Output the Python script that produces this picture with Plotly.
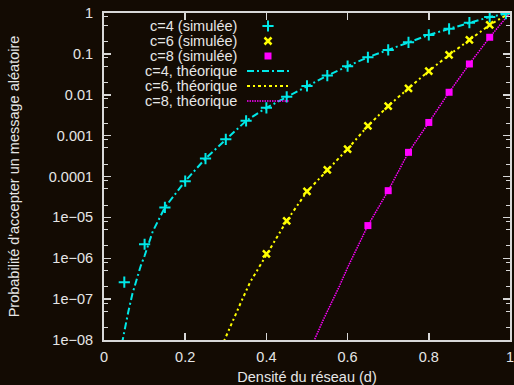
import plotly.graph_objects as go

# ---------------- data ----------------
sim_x_c4 = [0.05, 0.10, 0.15, 0.20, 0.25, 0.30, 0.35, 0.40, 0.45, 0.50,
            0.55, 0.60, 0.65, 0.70, 0.75, 0.80, 0.85, 0.90, 0.95, 0.99]
sim_y_c4 = [2.6e-7, 2.2e-6, 1.75e-5, 7.7e-5, 2.75e-4, 8.1e-4, 2.3e-3, 4.8e-3, 8.9e-3, 1.64e-2,
            2.94e-2, 5.0e-2, 8.26e-2, 0.125, 0.192, 0.29, 0.41, 0.58, 0.80, 0.97]

sim_x_c6 = [0.40, 0.45, 0.50, 0.55, 0.60, 0.65, 0.70, 0.75, 0.80, 0.85, 0.90, 0.95]
sim_y_c6 = [1.28e-6, 8.2e-6, 4.3e-5, 1.45e-4, 4.7e-4, 1.73e-3, 5.3e-3, 1.44e-2, 3.8e-2, 9.4e-2, 0.219, 0.51]

sim_x_c8 = [0.65, 0.70, 0.75, 0.80, 0.85, 0.90, 0.95]
sim_y_c8 = [6.3e-6, 4.5e-5, 3.9e-4, 2.1e-3, 1.15e-2, 5.66e-2, 0.255]

th_x_c4 = [0.044, 0.05, 0.055, 0.06, 0.07, 0.08, 0.09, 0.10, 0.12, 0.15, 0.20, 0.25, 0.30, 0.35,
           0.40, 0.45, 0.50, 0.55, 0.60, 0.65, 0.70, 0.75, 0.80, 0.85, 0.90, 0.95, 1.0]
th_y_c4 = [8e-9, 1.65e-8, 3.1e-8, 5e-8, 1.35e-7, 2.9e-7, 6.3e-7, 1.15e-6, 4.5e-6, 1.75e-5, 7.7e-5,
           2.75e-4, 8.1e-4, 2.3e-3, 4.8e-3, 8.9e-3, 1.64e-2, 2.94e-2, 5.0e-2, 8.26e-2, 0.125,
           0.192, 0.29, 0.41, 0.58, 0.80, 1.0]

th_x_c6 = [0.29, 0.30, 0.32, 0.34, 0.36, 0.38, 0.40, 0.45, 0.50, 0.55, 0.60, 0.65, 0.70,
           0.75, 0.80, 0.85, 0.90, 0.95, 1.0]
th_y_c6 = [7e-9, 1.2e-8, 3.6e-8, 9.6e-8, 2.6e-7, 5.6e-7, 1.28e-6, 8.2e-6, 4.3e-5, 1.45e-4,
           4.7e-4, 1.73e-3, 5.3e-3, 1.44e-2, 3.8e-2, 9.4e-2, 0.219, 0.51, 1.0]

th_x_c8 = [0.515, 0.52, 0.54, 0.56, 0.58, 0.60, 0.62, 0.65, 0.70, 0.75, 0.80, 0.85, 0.90, 0.95, 1.0]
th_y_c8 = [8e-9, 1.1e-8, 3.1e-8, 7.9e-8, 2.1e-7, 5.9e-7, 1.55e-6, 6.3e-6, 4.5e-5, 3.9e-4,
           2.1e-3, 1.15e-2, 5.66e-2, 0.255, 1.0]

legend_labels = ["c=4 (simulée)", "c=6 (simulée)", "c=8 (simulée)",
                 "c=4, théorique", "c=6, théorique", "c=8, théorique"]

x_tickvals = [0, 0.2, 0.4, 0.6, 0.8, 1.0]
x_ticktext = ["0", "0.2", "0.4", "0.6", "0.8", "1"]
y_tickvals = [1e-8, 1e-7, 1e-6, 1e-5, 1e-4, 1e-3, 1e-2, 1e-1, 1]
y_ticktext = ["1e\u221208", "1e\u221207", "1e\u221206", "1e\u221205", "0.0001",
              "0.001", "0.01", "0.1", "1"]
y_minor_mult = [2, 5, 8]

# ---------------- style ----------------
BG = "#130b03"
FG = "#e6e6e6"
AX = "#d8d8d8"
CYAN = "#00e8e8"
YELLOW = "#ffff00"
MAGENTA = "#ff00ff"
FONT = "Liberation Sans, Arial, sans-serif"
FS = 14.5

fig = go.Figure()

DASH_C4 = "7px,3px,2px,3px"
DASH_C6 = "3px,3px,2px,3px"
DASH_C8 = "1.5px,1px"

# theoretical curves
fig.add_trace(go.Scatter(x=th_x_c4, y=th_y_c4, mode="lines",
                         line=dict(color=CYAN, width=2, dash=DASH_C4), showlegend=False))
fig.add_trace(go.Scatter(x=th_x_c6, y=th_y_c6, mode="lines",
                         line=dict(color=YELLOW, width=2, dash=DASH_C6), showlegend=False))
fig.add_trace(go.Scatter(x=th_x_c8, y=th_y_c8, mode="lines",
                         line=dict(color=MAGENTA, width=1.5, dash=DASH_C8), showlegend=False))

# simulated points
mk_c4 = dict(symbol="cross-thin", size=8, color=CYAN, line=dict(color=CYAN, width=2))
mk_c6 = dict(symbol="x-thin", size=7, color=YELLOW, line=dict(color=YELLOW, width=2.5))
mk_c8 = dict(symbol="square", size=7, color=MAGENTA, line=dict(width=0))
fig.add_trace(go.Scatter(x=sim_x_c4, y=sim_y_c4, mode="markers", marker=mk_c4, showlegend=False))
fig.add_trace(go.Scatter(x=sim_x_c6, y=sim_y_c6, mode="markers", marker=mk_c6, showlegend=False))
fig.add_trace(go.Scatter(x=sim_x_c8, y=sim_y_c8, mode="markers", marker=mk_c8, showlegend=False))

# ---------------- custom gnuplot-style legend (text left of key) ----------------
L, R, T, B = 104, 510, 13, 340  # plot area in pixels
def px2paper_x(px):
    return (px - L) / (R - L)
def px2paper_y(py):
    return (B - py) / (B - T)

row_py = [26, 41, 56, 71, 86, 101]
text_right = px2paper_x(239)
key_x0, key_x1, key_xc = px2paper_x(247), px2paper_x(289), px2paper_x(268)

for lab, py in zip(legend_labels, row_py):
    fig.add_annotation(x=text_right, y=px2paper_y(py), xref="paper", yref="paper",
                       text=lab, showarrow=False, xanchor="right", yanchor="middle",
                       font=dict(family=FONT, size=FS, color=FG))

for mk, py in zip([mk_c4, mk_c6, mk_c8], row_py[:3]):
    fig.add_trace(go.Scatter(x=[key_xc], y=[px2paper_y(py)], mode="markers", marker=mk,
                             xaxis="x2", yaxis="y2", showlegend=False, hoverinfo="skip"))

for (col, w, dash), py in zip([(CYAN, 2, DASH_C4), (YELLOW, 2, DASH_C6),
                               (MAGENTA, 1.5, DASH_C8)], row_py[3:]):
    fig.add_shape(type="line", xref="paper", yref="paper",
                  x0=key_x0, x1=key_x1, y0=px2paper_y(py), y1=px2paper_y(py),
                  line=dict(color=col, width=w, dash=dash))

minor_vals = [m * 10.0 ** e for e in range(-8, 0) for m in y_minor_mult]

fig.update_layout(
    width=514, height=385,
    paper_bgcolor=BG, plot_bgcolor=BG,
    margin=dict(l=L, r=514 - R, t=T, b=385 - B),
    font=dict(family=FONT, size=FS, color=FG),
    showlegend=False,
    hovermode=False,
    xaxis=dict(range=[0, 1], tickmode="array", tickvals=x_tickvals, ticktext=x_ticktext,
               ticks="inside", ticklen=7, tickwidth=1.5, tickcolor=AX,
               showline=True, linecolor=AX, linewidth=2, mirror="allticks",
               showgrid=False, zeroline=False, ticklabelstandoff=3, automargin=False,
               ticklabeloverflow="allow",
               title=dict(text="Densité du réseau (d)", standoff=9,
                          font=dict(family=FONT, size=FS, color=FG))),
    yaxis=dict(type="log", range=[-8, 0], tickmode="array", tickvals=y_tickvals,
               ticktext=y_ticktext, ticks="inside", ticklen=7, tickwidth=1.5, tickcolor=AX,
               showline=True, linecolor=AX, linewidth=2, mirror="allticks",
               showgrid=False, zeroline=False, ticklabelstandoff=6, automargin=False,
               ticklabeloverflow="allow",
               minor=dict(tickmode="array", tickvals=minor_vals, ticks="inside",
                          ticklen=4, tickwidth=1, tickcolor=AX),
               title=dict(text="Probabilité d'accepter un message aléatoire", standoff=26,
                          font=dict(family=FONT, size=FS, color=FG))),
    xaxis2=dict(overlaying="x", range=[0, 1], visible=False, fixedrange=True),
    yaxis2=dict(overlaying="y", range=[0, 1], visible=False, fixedrange=True),
)

fig.write_html(
    "out.html",
    config={"displayModeBar": False, "staticPlot": True},
    post_script="document.body.style.margin='0';document.body.style.background='" + BG + "';"
                "document.documentElement.style.overflow='hidden';",
)
